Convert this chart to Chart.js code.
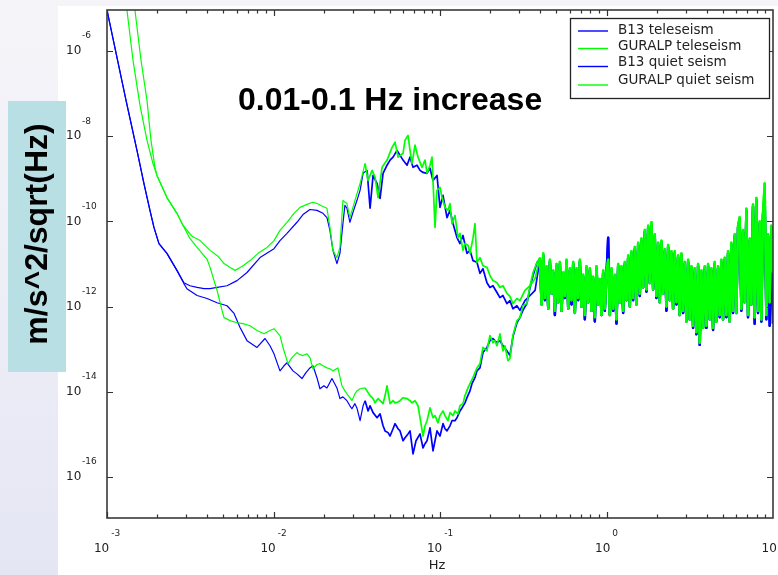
<!DOCTYPE html>
<html><head><meta charset="utf-8">
<script src="https://cdn.jsdelivr.net/npm/chart.js@4.4.1/dist/chart.umd.min.js"></script>
<style>html,body{margin:0;padding:0;background:#fff;overflow:hidden}canvas{display:block}</style>
</head><body>
<canvas id="c" width="778" height="575"></canvas>
<script>
// ---- labels / ticks ----
const seriesNames = ['B13 teleseism','GURALP teleseism','B13 quiet seism','GURALP quiet seism'];
const titleText = '0.01-0.1 Hz increase';
const yAxisTitle = 'm/s^2/sqrt(Hz)';
const xAxisTitle = 'Hz';
const xTickExps = [-3,-2,-1,0,1];
const yTickExps = [-6,-8,-10,-12,-14,-16];

// ---- data: log10(frequency in Hz) and log10(amplitude) ----
const b13TeleFreqExp = [-3.000,-2.886,-2.820,-2.778,-2.742,-2.718,-2.688,-2.640,-2.580,-2.538,-2.502,-2.459,-2.417,-2.381,-2.339,-2.279,-2.219,-2.159,-2.081,-1.997,-1.961,-1.919,-1.859,-1.823,-1.781,-1.739,-1.703,-1.679,-1.661,-1.643,-1.619,-1.601,-1.583,-1.571,-1.559,-1.541,-1.523,-1.499,-1.480,-1.462,-1.438,-1.420,-1.402,-1.378,-1.360,-1.342,-1.318,-1.300,-1.282,-1.258,-1.240,-1.222,-1.198,-1.180,-1.162,-1.138,-1.120,-1.102,-1.078,-1.060,-1.042,-1.018,-1.000,-0.982,-0.958,-0.940,-0.922,-0.898,-0.880,-0.862,-0.838,-0.820,-0.802,-0.778,-0.760,-0.742,-0.718,-0.700,-0.682,-0.658,-0.640,-0.622,-0.598,-0.580,-0.562,-0.538,-0.520,-0.490,-0.459,-0.429];
const b13TeleAmpExp = [-5.04,-7.15,-8.33,-9.11,-9.74,-10.14,-10.52,-10.75,-11.15,-11.44,-11.51,-11.55,-11.58,-11.58,-11.55,-11.51,-11.39,-11.20,-10.85,-10.64,-10.45,-10.28,-10.02,-9.84,-9.72,-9.74,-9.81,-9.91,-10.21,-10.68,-10.99,-10.75,-10.05,-9.62,-9.69,-10.02,-9.79,-9.51,-9.27,-8.87,-8.80,-9.69,-8.92,-9.11,-9.46,-8.87,-8.68,-8.56,-8.49,-8.33,-8.45,-8.56,-8.68,-8.49,-8.73,-8.68,-8.80,-8.85,-8.87,-8.75,-9.04,-8.92,-9.67,-9.39,-9.91,-9.74,-10.05,-10.38,-10.52,-10.33,-10.75,-10.68,-10.92,-10.96,-11.22,-11.11,-11.44,-11.55,-11.51,-11.67,-11.79,-11.74,-11.93,-11.86,-12.05,-11.98,-12.09,-11.86,-11.74,-11.62];

const guralpTeleFreqExp = [-2.892,-2.880,-2.844,-2.802,-2.760,-2.724,-2.700,-2.640,-2.580,-2.544,-2.489,-2.441,-2.381,-2.333,-2.297,-2.261,-2.231,-2.189,-2.141,-2.093,-2.039,-1.997,-1.961,-1.919,-1.877,-1.841,-1.799,-1.763,-1.739,-1.703,-1.679,-1.661,-1.643,-1.619,-1.601,-1.583,-1.559,-1.541,-1.511,-1.480,-1.450,-1.432,-1.408,-1.390,-1.372,-1.348,-1.318,-1.288,-1.270,-1.252,-1.222,-1.210,-1.192,-1.180,-1.168,-1.150,-1.132,-1.108,-1.090,-1.078,-1.060,-1.048,-1.030,-1.018,-1.000,-0.988,-0.970,-0.952,-0.940,-0.928,-0.910,-0.892,-0.880,-0.862,-0.850,-0.832,-0.820,-0.802,-0.790,-0.778,-0.760,-0.742,-0.718,-0.700,-0.682,-0.658,-0.640,-0.622,-0.598,-0.580,-0.562,-0.538,-0.520,-0.490,-0.459,-0.429];
const guralpTeleAmpExp = [-4.80,-5.04,-6.21,-7.27,-8.09,-8.64,-8.92,-9.44,-9.81,-10.09,-10.35,-10.45,-10.68,-10.82,-10.99,-11.08,-11.15,-11.06,-10.92,-10.75,-10.61,-10.45,-10.21,-10.02,-9.81,-9.67,-9.60,-9.55,-9.58,-9.65,-9.69,-10.14,-10.68,-10.85,-10.61,-9.51,-9.58,-9.91,-9.51,-9.11,-8.64,-9.04,-8.80,-8.96,-9.44,-8.73,-8.56,-8.26,-8.14,-8.49,-8.40,-8.09,-7.98,-8.33,-8.64,-8.21,-8.49,-8.73,-8.56,-8.87,-8.68,-8.49,-10.14,-9.27,-9.20,-9.44,-9.67,-9.74,-9.58,-10.05,-9.86,-10.38,-10.28,-10.68,-10.52,-10.56,-10.75,-10.40,-10.05,-10.96,-10.85,-11.04,-11.08,-11.27,-11.39,-11.44,-11.55,-11.51,-11.69,-11.76,-11.93,-11.81,-11.86,-11.62,-11.51,-11.34];

const b13QuietFreqExp = [-3.000,-2.886,-2.820,-2.778,-2.742,-2.718,-2.688,-2.640,-2.580,-2.538,-2.520,-2.459,-2.399,-2.339,-2.279,-2.237,-2.201,-2.159,-2.099,-2.051,-2.021,-1.997,-1.961,-1.937,-1.919,-1.883,-1.859,-1.829,-1.805,-1.781,-1.763,-1.739,-1.721,-1.697,-1.679,-1.649,-1.619,-1.601,-1.583,-1.559,-1.541,-1.529,-1.511,-1.499,-1.480,-1.462,-1.450,-1.432,-1.420,-1.402,-1.378,-1.360,-1.342,-1.330,-1.312,-1.300,-1.282,-1.270,-1.252,-1.240,-1.222,-1.210,-1.192,-1.180,-1.162,-1.144,-1.120,-1.102,-1.090,-1.078,-1.060,-1.042,-1.030,-1.018,-1.000,-0.982,-0.970,-0.958,-0.940,-0.928,-0.910,-0.898,-0.880,-0.868,-0.850,-0.838,-0.820,-0.808,-0.790,-0.778,-0.760,-0.742,-0.718,-0.700,-0.682,-0.658,-0.640,-0.622,-0.598,-0.580,-0.562,-0.538,-0.520,-0.502,-0.478,-0.459,-0.441,-0.417];
const b13QuietAmpExp = [-5.04,-7.15,-8.33,-9.11,-9.74,-10.14,-10.52,-10.75,-11.15,-11.46,-11.58,-11.74,-11.81,-11.91,-11.98,-12.16,-12.49,-12.80,-12.96,-12.75,-12.92,-13.11,-13.51,-13.39,-13.32,-13.51,-13.58,-13.69,-13.55,-13.44,-13.39,-13.67,-13.93,-13.86,-13.91,-13.69,-13.91,-14.16,-14.12,-14.21,-14.33,-14.40,-14.28,-14.38,-14.68,-14.33,-14.21,-14.45,-14.33,-14.49,-14.61,-14.52,-14.80,-14.92,-14.96,-15.04,-14.87,-14.75,-14.87,-14.92,-15.15,-15.08,-14.99,-14.92,-15.46,-15.15,-14.99,-15.32,-15.22,-15.15,-14.85,-15.39,-15.15,-14.92,-15.04,-14.75,-14.87,-14.92,-14.80,-14.68,-14.68,-14.61,-14.45,-14.38,-14.26,-14.14,-13.98,-13.81,-13.67,-13.51,-13.44,-13.08,-12.96,-12.80,-12.75,-12.85,-12.80,-12.92,-13.04,-13.15,-12.71,-12.38,-12.26,-12.09,-11.93,-11.55,-11.27,-10.96];

const guralpQuietFreqExp = [-2.844,-2.832,-2.796,-2.760,-2.736,-2.712,-2.700,-2.640,-2.580,-2.544,-2.502,-2.459,-2.399,-2.381,-2.357,-2.339,-2.309,-2.297,-2.261,-2.219,-2.183,-2.141,-2.099,-2.057,-2.021,-1.997,-1.961,-1.943,-1.913,-1.889,-1.859,-1.841,-1.823,-1.799,-1.781,-1.763,-1.739,-1.721,-1.703,-1.679,-1.661,-1.643,-1.613,-1.589,-1.571,-1.559,-1.541,-1.529,-1.511,-1.499,-1.480,-1.450,-1.432,-1.420,-1.402,-1.390,-1.372,-1.360,-1.342,-1.330,-1.318,-1.300,-1.282,-1.270,-1.252,-1.240,-1.222,-1.198,-1.180,-1.168,-1.150,-1.132,-1.120,-1.102,-1.090,-1.078,-1.060,-1.042,-1.030,-1.012,-1.000,-0.982,-0.970,-0.952,-0.940,-0.922,-0.910,-0.892,-0.880,-0.862,-0.850,-0.832,-0.820,-0.802,-0.778,-0.760,-0.742,-0.718,-0.700,-0.682,-0.670,-0.658,-0.640,-0.622,-0.610,-0.592,-0.580,-0.562,-0.538,-0.520,-0.502,-0.478,-0.459,-0.441,-0.417];
const guralpQuietAmpExp = [-4.80,-5.04,-6.21,-7.15,-8.09,-8.73,-8.92,-9.44,-9.81,-10.09,-10.40,-10.61,-10.89,-11.08,-11.39,-11.62,-12.09,-12.26,-12.33,-12.38,-12.40,-12.45,-12.56,-12.64,-12.56,-12.52,-12.68,-12.96,-13.34,-13.20,-13.08,-13.13,-13.15,-13.11,-13.20,-13.46,-13.36,-13.34,-13.39,-13.44,-13.46,-13.51,-13.44,-13.86,-13.98,-14.05,-14.14,-14.21,-14.05,-13.98,-13.93,-13.91,-14.02,-14.09,-14.16,-14.26,-14.16,-14.21,-14.28,-14.09,-13.86,-14.28,-14.21,-14.26,-14.24,-14.21,-14.14,-14.16,-14.21,-14.26,-14.21,-14.33,-14.61,-15.04,-14.80,-14.68,-14.38,-14.61,-14.56,-14.73,-14.56,-14.45,-14.56,-14.68,-14.49,-14.56,-14.45,-14.52,-14.33,-14.28,-14.09,-13.91,-13.81,-13.67,-13.44,-13.34,-12.96,-13.04,-12.68,-12.85,-12.80,-12.92,-12.64,-13.04,-12.92,-13.27,-13.22,-12.68,-12.33,-12.26,-11.98,-11.93,-11.51,-11.20,-10.96];

// high-frequency band (shared by teleseism and quiet records)
const bandFreqExp = [-0.40,-0.39,-0.38,-0.37,-0.36,-0.35,-0.34,-0.33,-0.32,-0.31,-0.30,-0.29,-0.28,-0.27,-0.26,-0.25,-0.24,-0.23,-0.22,-0.21,-0.20,-0.19,-0.18,-0.17,-0.16,-0.15,-0.14,-0.13,-0.12,-0.11,-0.10,-0.09,-0.08,-0.07,-0.06,-0.05,-0.04,-0.03,-0.02,-0.01,0.00,0.01,0.02,0.03,0.04,0.05,0.06,0.07,0.08,0.09,0.10,0.11,0.12,0.13,0.14,0.15,0.16,0.17,0.18,0.19,0.20,0.21,0.22,0.23,0.24,0.25,0.26,0.27,0.28,0.29,0.30,0.31,0.32,0.33,0.34,0.35,0.36,0.37,0.38,0.39,0.40,0.41,0.42,0.43,0.44,0.45,0.46,0.47,0.48,0.49,0.50,0.51,0.52,0.53,0.54,0.55,0.56,0.57,0.58,0.59,0.60,0.61,0.62,0.63,0.64,0.65,0.66,0.67,0.68,0.69,0.70,0.71,0.72,0.73,0.74,0.75,0.76,0.77,0.78,0.79,0.80,0.81,0.82,0.83,0.84,0.85,0.86,0.87,0.88,0.89,0.90,0.91,0.92,0.93,0.94,0.95,0.96,0.97,0.98,0.99,1.00];
const guralpBandAmpExp = [-10.85,-11.95,-10.75,-11.80,-11.05,-12.05,-10.90,-11.70,-11.15,-12.10,
 -11.00,-11.90,-10.95,-12.10,-11.20,-11.75,-10.90,-12.05,-11.10,-11.85,
 -10.95,-12.15,-11.10,-11.80,-10.90,-12.00,-11.25,-12.20,-11.05,-11.90,
 -11.10,-12.10,-11.30,-12.25,-11.05,-11.95,-11.35,-12.20,-11.15,-12.05,
 -11.20,-10.90,-12.20,-11.10,-12.05,-11.25,-12.30,-11.00,-11.90,-11.05,
 -12.10,-10.95,-11.85,-10.80,-12.00,-10.70,-11.80,-10.60,-11.95,-10.50,
 -11.70,-10.40,-11.55,-10.20,-11.60,-10.10,-11.45,-10.02,-11.60,-10.30,
 -11.75,-10.50,-11.90,-10.45,-11.70,-10.65,-12.00,-10.55,-11.85,-10.70,
 -12.05,-10.70,-11.90,-10.80,-12.20,-10.75,-12.10,-10.95,-12.35,-10.90,
 -12.30,-11.05,-12.45,-11.10,-12.60,-11.00,-12.85,-11.15,-12.50,-11.05,
 -12.45,-11.00,-12.30,-11.10,-12.50,-10.95,-12.35,-11.05,-12.20,-10.90,
 -12.30,-10.85,-12.20,-10.70,-12.35,-10.50,-12.10,-10.30,-12.15,-10.10,
 -9.90,-12.05,-10.20,-11.90,-9.70,-12.20,-10.40,-11.95,-9.60,-12.25,
 -9.45,-12.10,-10.00,-12.30,-9.80,-9.11,-12.20,-10.30,-11.90,-10.10,
 -11.20];
const b13BandAmpExp = [-10.90,-11.95,-10.80,-11.85,-11.10,-12.05,-10.95,-11.70,-11.20,-12.20,
 -11.05,-11.90,-11.00,-12.10,-11.25,-11.80,-10.95,-12.05,-11.15,-11.95,
 -11.00,-12.15,-11.15,-11.85,-10.95,-12.00,-11.30,-12.30,-11.10,-11.90,
 -11.15,-12.10,-11.35,-12.35,-11.10,-11.95,-11.40,-12.20,-11.20,-12.10,
 -11.25,-10.38,-12.20,-11.15,-12.10,-11.30,-12.40,-11.05,-11.90,-11.10,
 -12.15,-11.00,-11.85,-10.85,-12.00,-10.75,-11.85,-10.65,-11.95,-10.55,
 -11.75,-10.45,-11.55,-10.25,-11.65,-10.15,-11.45,-10.10,-11.60,-10.35,
 -11.80,-10.55,-11.90,-10.50,-11.70,-10.70,-12.10,-10.60,-11.85,-10.75,
 -12.05,-10.75,-11.95,-10.85,-12.20,-10.80,-12.15,-11.00,-12.35,-10.95,
 -12.30,-11.10,-12.50,-11.15,-12.65,-11.05,-12.90,-11.20,-12.50,-11.10,
 -12.50,-11.05,-12.30,-11.15,-12.55,-11.00,-12.35,-11.10,-12.25,-10.95,
 -12.30,-10.90,-12.25,-10.75,-12.35,-10.55,-12.15,-10.35,-12.15,-10.15,
 -9.95,-12.10,-10.25,-11.90,-9.75,-12.25,-10.45,-11.95,-9.65,-12.40,
 -9.50,-12.15,-10.05,-12.35,-9.85,-9.40,-12.30,-10.35,-12.45,-10.15,
 -12.40];

// ---- build datasets ----
function toPoints(fe, ae){
  const n = Math.min(fe.length, ae.length);
  const out = [];
  for (let i = 0; i < n; i++) out.push({x: Math.pow(10, fe[i]), y: Math.pow(10, ae[i])});
  return out;
}
const BLUE = '#0000ff', GREEN = '#00ff00';
const seriesData = [
  toPoints(b13TeleFreqExp.concat(bandFreqExp), b13TeleAmpExp.concat(b13BandAmpExp)),
  toPoints(guralpTeleFreqExp.concat(bandFreqExp), guralpTeleAmpExp.concat(guralpBandAmpExp)),
  toPoints(b13QuietFreqExp.concat(bandFreqExp), b13QuietAmpExp.concat(b13BandAmpExp)),
  toPoints(guralpQuietFreqExp.concat(bandFreqExp), guralpQuietAmpExp.concat(guralpBandAmpExp))
];
const seriesColors = [BLUE, GREEN, BLUE, GREEN];

// noisier parts of the spectra are drawn with a heavier trace
function segWidth(ctx){
  const x = ctx.p0.parsed.x;
  if (x >= 0.388) return 2.4;
  if (x >= 0.035) return 1.7;
  return 1.2;
}

const chrome = {
  id: 'chrome',
  beforeDraw(chart){
    const c = chart.ctx;
    c.save();
    const g = c.createLinearGradient(0, 0, 0, 575);
    g.addColorStop(0, '#f5f5f9'); g.addColorStop(1, '#e5e6f4');
    c.fillStyle = g; c.fillRect(0, 0, 778, 575);
    c.fillStyle = '#ffffff'; c.fillRect(58, 6, 720, 569);
    c.fillStyle = '#b8dfe4'; c.fillRect(8, 101, 58, 271);
    c.restore();
  },
  afterDatasetsDraw(chart){
    const c = chart.ctx, ca = chart.chartArea;
    const xs = chart.scales.x, ys = chart.scales.y;
    c.save();
    // frame
    c.strokeStyle = '#3a3a3a'; c.lineWidth = 1.6;
    c.strokeRect(ca.left, ca.top, ca.right - ca.left, ca.bottom - ca.top);
    // x ticks (inward, top & bottom)
    c.lineWidth = 1.2; c.strokeStyle = '#333';
    for (let d = -3; d <= 0; d++) {
      for (let m = 1; m <= 9; m++) {
        const px = Math.round(xs.getPixelForValue(m * Math.pow(10, d))) + 0.5;
        const len = m === 1 ? 6 : 3.5;
        c.beginPath();
        c.moveTo(px, ca.bottom); c.lineTo(px, ca.bottom - len);
        c.moveTo(px, ca.top); c.lineTo(px, ca.top + len);
        c.stroke();
      }
    }
    // y ticks (inward, left & right)
    yTickExps.forEach(e => {
      const py = Math.round(ys.getPixelForValue(Math.pow(10, e))) + 0.5;
      c.beginPath();
      c.moveTo(ca.left, py); c.lineTo(ca.left + 6, py);
      c.moveTo(ca.right, py); c.lineTo(ca.right - 6, py);
      c.stroke();
    });
    // tick labels
    c.fillStyle = '#222';
    c.textBaseline = 'middle';
    const bigF = '12px "DejaVu Sans", sans-serif', smallF = '9px "DejaVu Sans", sans-serif';
    xTickExps.forEach(e => {
      const px = xs.getPixelForValue(Math.pow(10, e));
      c.font = bigF; const w1 = c.measureText('10').width;
      c.font = smallF; const w2 = c.measureText(String(e)).width;
      const start = px - (w1 + 2 + w2) / 2;
      c.textAlign = 'left';
      c.font = bigF; c.fillText('10', start, 549);
      c.font = smallF; c.fillText(String(e), start + w1 + 2, 534);
    });
    yTickExps.forEach(e => {
      const py = ys.getPixelForValue(Math.pow(10, e));
      c.textAlign = 'left';
      c.font = bigF; c.fillText('10', 66, py);
      c.font = smallF; c.fillText(String(e), 82, py - 15);
    });
    // x axis title
    c.font = '13px "DejaVu Sans", sans-serif'; c.textAlign = 'center';
    c.fillText(xAxisTitle, (ca.left + ca.right) / 2 - 3, 566);
    // legend box
    c.fillStyle = '#fff'; c.fillRect(570, 18, 199, 80);
    c.strokeStyle = '#222'; c.lineWidth = 1.3; c.strokeRect(570.5, 18.5, 199, 80);
    const textY = [30.5, 46, 62.5, 80], lineY = [31, 48.5, 66.5, 85];
    seriesNames.forEach((nm, i) => {
      c.strokeStyle = seriesColors[i]; c.lineWidth = 1.4;
      c.beginPath(); c.moveTo(578, lineY[i]); c.lineTo(608, lineY[i]); c.stroke();
      c.fillStyle = '#222'; c.font = '13.5px "DejaVu Sans", sans-serif'; c.textAlign = 'left';
      c.fillText(nm, 618, textY[i]);
    });
    // annotation title
    c.fillStyle = '#000'; c.font = 'bold 32px "Liberation Sans", Arial, sans-serif';
    c.textAlign = 'left'; c.fillText(titleText, 238, 101);
    // y axis title (rotated)
    c.translate(37, 234); c.rotate(-Math.PI / 2);
    c.textAlign = 'center'; c.font = 'bold 32px "Liberation Sans", Arial, sans-serif';
    c.fillText(yAxisTitle, 0, 1);
    c.restore();
  }
};

new Chart(document.getElementById('c'), {
  type: 'scatter',
  data: {
    datasets: seriesNames.map((nm, i) => ({
      label: nm,
      data: seriesData[i],
      showLine: true,
      borderColor: seriesColors[i],
      backgroundColor: seriesColors[i],
      borderWidth: 1.2,
      borderJoinStyle: 'round',
      segment: { borderWidth: segWidth },
      pointRadius: 0,
      tension: 0,
      order: seriesColors[i] === GREEN ? 1 : 2
    }))
  },
  options: {
    responsive: false,
    animation: false,
    devicePixelRatio: 1,
    layout: { padding: { left: 107, right: 5, top: 10, bottom: 57 } },
    scales: {
      x: { type: 'logarithmic', min: 1e-3, max: 10, display: false },
      y: { type: 'logarithmic', min: Math.pow(10, -16.965), max: Math.pow(10, -5.035), display: false }
    },
    plugins: { legend: { display: false }, tooltip: { enabled: false } }
  },
  plugins: [chrome]
});
</script>
</body></html>
